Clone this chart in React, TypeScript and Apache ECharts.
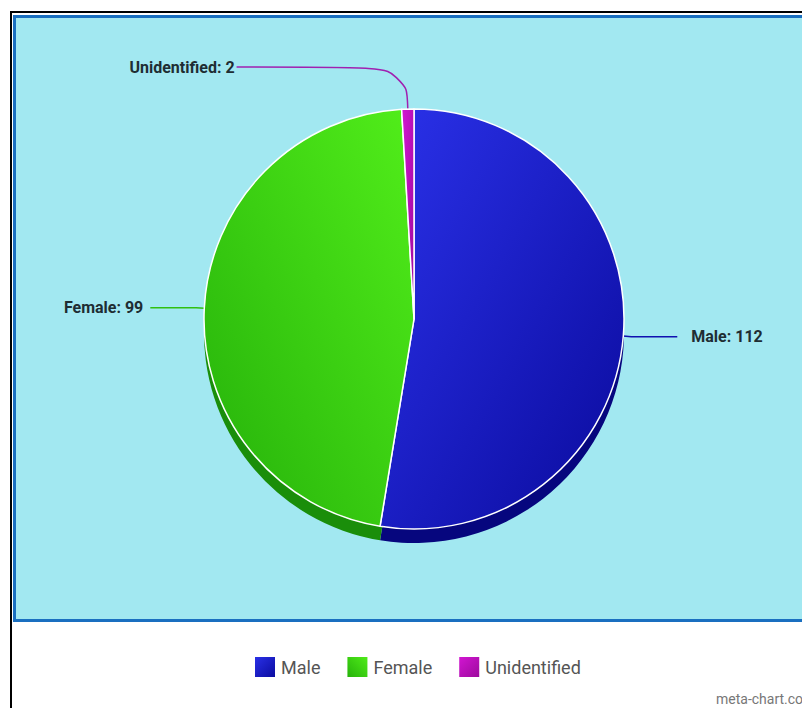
import React, { useEffect, useRef } from "react";
import * as echarts from "echarts";

const categories = ["Male", "Female", "Unidentified"];
const values = [112, 99, 2];
const topColors = [
  ["#2b32ea", "#0a0a9c"],
  ["#52ee1a", "#24b00a"],
  ["#d416d4", "#9a0a9a"],
];
const sideColors = ["#06067e", "#1a8e0a", "#7e0a7e"];
const lineColors = ["#1010b0", "#30c010", "#a020b0"];

export default function App() {
  const ref = useRef<HTMLDivElement>(null);
  useEffect(() => {
    if (!ref.current) return;
    const chart = echarts.init(ref.current, undefined, { renderer: "svg" });
    const labelFont = "Roboto, 'Liberation Sans', sans-serif";
    const cx = 414;
    const cy = 319;
    const r = 210;
    const lineCfg = [
      { length: 8, length2: 46, dist: 14 },
      { length: 8, length2: 46, dist: 7 },
      { length: 42, length2: 170, dist: 2 },
    ];
    const option: any = {
      animation: false,
      graphic: [
        { type: "rect", z: -10, shape: { x: 10, y: 11, width: 800, height: 2 }, style: { fill: "#000" } },
        { type: "rect", z: -10, shape: { x: 10, y: 11, width: 2, height: 700 }, style: { fill: "#000" } },
        {
          type: "rect",
          z: -10,
          shape: { x: 14.5, y: 16.5, width: 800, height: 604 },
          style: { fill: "#a2e8f1", stroke: "#1a6fc0", lineWidth: 3 },
        },
        {
          type: "text",
          left: 716,
          top: 692,
          style: { text: "meta-chart.co", fill: "#777", font: "14px " + labelFont },
        },
      ],
      legend: {
        left: 253,
        top: 655,
        padding: 0,
        icon: "rect",
        itemWidth: 22,
        itemHeight: 22,
        itemGap: 25,
        data: categories,
        textStyle: { fontSize: 18, color: "#555", fontFamily: labelFont },
      },
      series: [
        {
          type: "pie",
          silent: true,
          center: [cx, cy + 14],
          radius: r,
          startAngle: 90,
          clockwise: true,
          label: { show: false },
          labelLine: { show: false },
          legendHoverLink: false,
          itemStyle: { borderWidth: 0 },
          data: categories.map((c, i) => ({
            name: c + "_side",
            value: values[i],
            itemStyle: { color: sideColors[i] },
          })),
        },
        {
          type: "pie",
          center: [cx, cy],
          radius: r,
          startAngle: 90,
          clockwise: true,
          itemStyle: { borderColor: "#ffffff", borderWidth: 1.5 },
          label: {
            show: true,
            position: "outside",
            formatter: "{b}: {c}",
            fontFamily: labelFont,
            fontWeight: "bold",
            fontSize: 16,
            color: "#1e2d33",
          },
          data: categories.map((c, i) => ({
            name: c,
            value: values[i],
            itemStyle: {
              color: new echarts.graphic.LinearGradient(
                i === 1 ? 1 : 0,
                0,
                i === 1 ? 0 : 1,
                1,
                [
                  { offset: 0, color: topColors[i][0] },
                  { offset: 1, color: topColors[i][1] },
                ]
              ),
            },
            label: { distanceToLabelLine: lineCfg[i].dist },
            labelLine: {
              length: lineCfg[i].length,
              length2: lineCfg[i].length2,
              smooth: i === 2 ? 0.5 : false,
              lineStyle: { color: lineColors[i], width: 1.5 },
            },
          })),
        },
      ],
    };
    chart.setOption(option);
    return () => chart.dispose();
  }, []);
  return (
    <div
      ref={ref}
      style={{ position: "absolute", left: 0, top: 0, width: 802, height: 708, background: "#fff" }}
    />
  );
}
